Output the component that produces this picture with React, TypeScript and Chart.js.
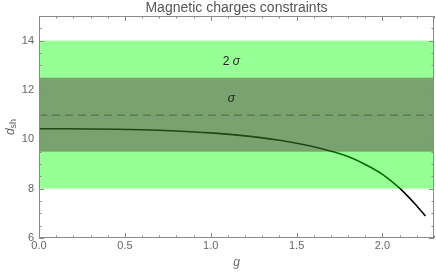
import React, { useEffect, useRef } from "react";
import { Chart, registerables } from "chart.js";

Chart.register(...registerables);

const gValues = [0, 0.3, 0.6, 0.8, 1.0, 1.2, 1.4, 1.5, 1.6, 1.7, 1.8, 1.9, 2.0, 2.1, 2.2, 2.25];
const dValues = [10.43, 10.42, 10.39, 10.34, 10.26, 10.14, 9.96, 9.84, 9.7, 9.52, 9.3, 8.98, 8.58, 8.02, 7.3, 6.89];

const xMajorTicks = [0, 0.5, 1.0, 1.5, 2.0];
const xTickLabels = ["0.0", "0.5", "1.0", "1.5", "2.0"];
const yMajorTicks = [6, 8, 10, 12, 14];
const yTickLabels = ["6", "8", "10", "12", "14"];

const band2Sigma = [8, 14];
const band1Sigma = [9.5, 12.5];
const centralValue = [11];
const band2Label = { g: 1.12, d: 13.15, prefix: "2 ", text: "σ" };
const band1Label = { g: 1.12, d: 11.65, prefix: "", text: "σ" };

const titleText = "Magnetic charges constraints";
const FONT = "'Liberation Sans', Arial, sans-serif";

export default function App() {
  const ref = useRef<HTMLCanvasElement>(null);
  useEffect(() => {
    if (!ref.current) return;
    const drawLabel = (ctx: any, lbl: any, x: number, y: number) => {
      ctx.font = `12px ${FONT}`;
      const w1 = ctx.measureText(lbl.prefix).width;
      ctx.font = `italic 12px ${FONT}`;
      const w2 = ctx.measureText(lbl.text).width;
      const start = x - (w1 + w2) / 2;
      ctx.textAlign = "left";
      ctx.font = `12px ${FONT}`;
      ctx.fillText(lbl.prefix, start, y);
      ctx.font = `italic 12px ${FONT}`;
      ctx.fillText(lbl.text, start + w1, y);
    };
    const overlay = {
      id: "overlay",
      afterDatasetsDraw(chart: any) {
        const { ctx, chartArea: a, scales } = chart;
        const xs = scales.x, ys = scales.y;
        ctx.save();
        ctx.beginPath();
        ctx.rect(a.left, a.top, a.right - a.left, a.bottom - a.top);
        ctx.clip();
        let y1 = ys.getPixelForValue(band2Sigma[1]);
        let y2 = ys.getPixelForValue(band2Sigma[0]);
        ctx.fillStyle = "rgba(0,255,0,0.41)";
        ctx.fillRect(a.left, y1, a.right - a.left, y2 - y1);
        y1 = ys.getPixelForValue(band1Sigma[1]);
        y2 = ys.getPixelForValue(band1Sigma[0]);
        ctx.fillStyle = "rgba(80,22,50,0.4)";
        ctx.fillRect(a.left, y1, a.right - a.left, y2 - y1);
        const yc = ys.getPixelForValue(centralValue[0]);
        ctx.strokeStyle = "rgba(70,80,70,0.75)";
        ctx.lineWidth = 1;
        ctx.setLineDash([8, 5]);
        ctx.beginPath();
        ctx.moveTo(a.left, yc + 0.5);
        ctx.lineTo(a.right, yc + 0.5);
        ctx.stroke();
        ctx.setLineDash([]);
        ctx.fillStyle = "#222";
        ctx.textBaseline = "middle";
        drawLabel(ctx, band2Label, xs.getPixelForValue(band2Label.g), ys.getPixelForValue(band2Label.d));
        drawLabel(ctx, band1Label, xs.getPixelForValue(band1Label.g), ys.getPixelForValue(band1Label.d));
        ctx.restore();

        ctx.save();
        ctx.strokeStyle = "#8a8a8a";
        ctx.lineWidth = 1;
        ctx.strokeRect(a.left + 0.5, a.top + 0.5, a.right - a.left - 1, a.bottom - a.top - 1);
        ctx.beginPath();
        for (let i = 0; i <= 23; i++) {
          const v = i / 10;
          const major = i % 5 === 0;
          const len = major ? 5 : 2.5;
          const px = Math.round(xs.getPixelForValue(v)) + 0.5;
          ctx.moveTo(px, a.bottom);
          ctx.lineTo(px, a.bottom - len);
          ctx.moveTo(px, a.top);
          ctx.lineTo(px, a.top + len);
        }
        for (let i = 12; i <= 30; i++) {
          const v = i / 2;
          const major = i % 4 === 0;
          const len = major ? 5 : 2.5;
          const py = Math.round(ys.getPixelForValue(v)) + 0.5;
          ctx.moveTo(a.left, py);
          ctx.lineTo(a.left + len, py);
          ctx.moveTo(a.right, py);
          ctx.lineTo(a.right - len, py);
        }
        ctx.stroke();
        ctx.restore();
      },
      afterDraw(chart: any) {
        const { ctx, chartArea: a } = chart;
        ctx.save();
        ctx.fillStyle = "#555";
        ctx.font = `14px ${FONT}`;
        ctx.textAlign = "center";
        ctx.textBaseline = "middle";
        ctx.fillText(titleText, (a.left + a.right) / 2, 8);
        ctx.font = `italic 12px ${FONT}`;
        ctx.fillStyle = "#666";
        ctx.fillText("g", (a.left + a.right) / 2, 263);
        ctx.translate(11, (a.top + a.bottom) / 2);
        ctx.rotate(-Math.PI / 2);
        ctx.textAlign = "left";
        ctx.font = `italic 12px ${FONT}`;
        const w1 = ctx.measureText("d").width;
        ctx.font = `9px ${FONT}`;
        const w2 = ctx.measureText("sh").width;
        const start = -(w1 + w2) / 2;
        ctx.font = `italic 12px ${FONT}`;
        ctx.fillText("d", start, 0);
        ctx.font = `9px ${FONT}`;
        ctx.fillText("sh", start + w1, 3);
        ctx.restore();
      },
    };

    const chart = new Chart(ref.current, {
      type: "line",
      data: {
        datasets: [
          {
            data: gValues.map((g, i) => ({ x: g, y: dValues[i] })),
            borderColor: "#000",
            borderWidth: 1.6,
            pointRadius: 0,
            tension: 0.3,
            fill: false,
          },
        ],
      },
      options: {
        responsive: false,
        animation: false,
        layout: { padding: { top: 16, right: 2, left: 0, bottom: 0 } },
        plugins: { legend: { display: false }, title: { display: false }, tooltip: { enabled: false } },
        scales: {
          x: {
            type: "linear",
            min: 0,
            max: 2.3,
            afterFit: (s: any) => { s.height = 35; },
            afterBuildTicks: (s: any) => { s.ticks = xMajorTicks.map((v) => ({ value: v })); },
            grid: { display: false, drawTicks: false },
            border: { display: false },
            ticks: {
              padding: 1,
              color: "#666",
              font: { family: FONT, size: 11 },
              maxRotation: 0,
              callback: (v: any) => {
                const i = xMajorTicks.findIndex((t) => Math.abs(t - v) < 1e-6);
                return i >= 0 ? xTickLabels[i] : "";
              },
            },
          },
          y: {
            type: "linear",
            min: 6,
            max: 15,
            afterFit: (s: any) => { s.width = 39; },
            afterBuildTicks: (s: any) => { s.ticks = yMajorTicks.map((v) => ({ value: v })); },
            grid: { display: false, drawTicks: false },
            border: { display: false },
            ticks: {
              padding: 5,
              color: "#666",
              font: { family: FONT, size: 11 },
              callback: (v: any) => {
                const i = yMajorTicks.findIndex((t) => Math.abs(t - v) < 1e-6);
                return i >= 0 ? yTickLabels[i] : "";
              },
            },
          },
        },
      },
      plugins: [overlay],
    } as any);
    return () => chart.destroy();
  }, []);

  return (
    <div style={{ position: "absolute", left: 0, top: 0, width: 436, height: 273 }}>
      <canvas ref={ref} width={436} height={273} style={{ display: "block" }} />
    </div>
  );
}
